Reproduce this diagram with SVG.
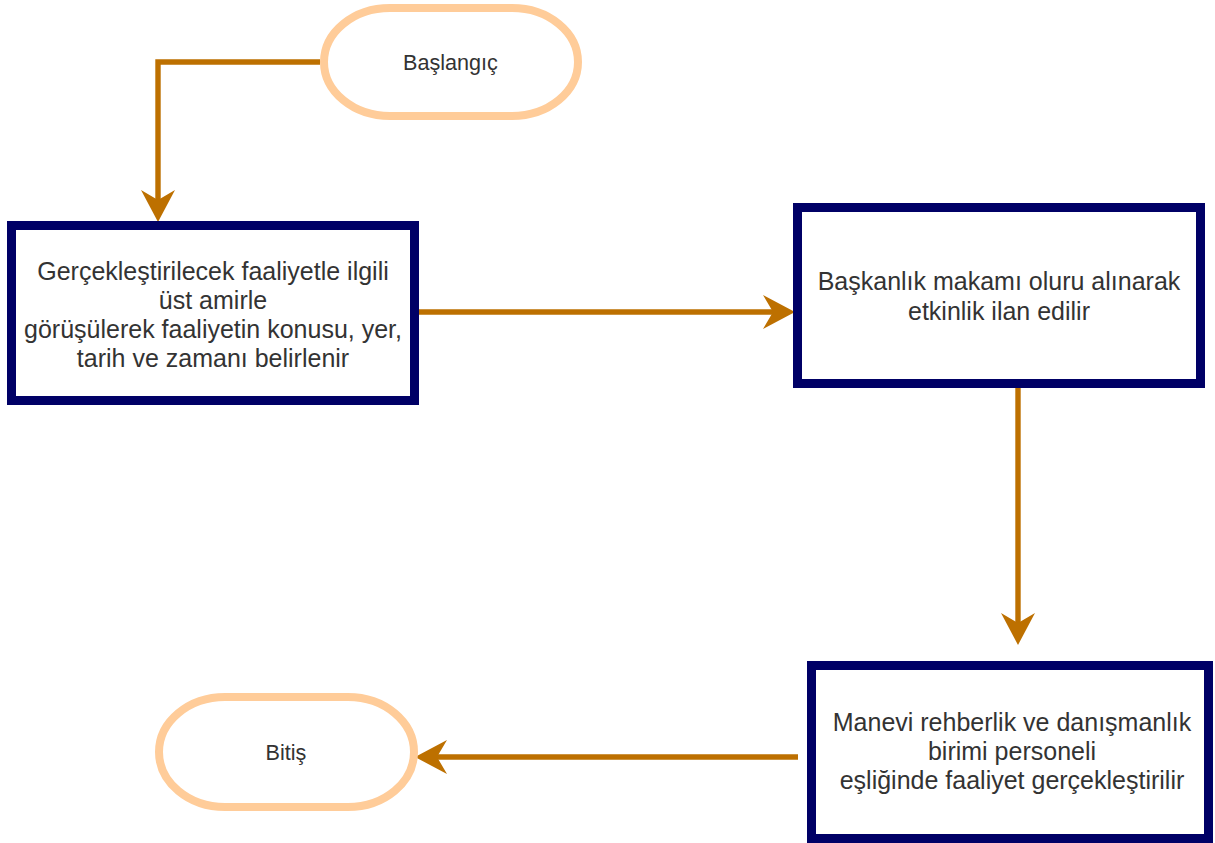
<svg xmlns="http://www.w3.org/2000/svg" width="1215" height="843" viewBox="0 0 1215 843">
<style>
.pill{fill:#ffffff;stroke:#FFCC99;stroke-width:8}
.box{fill:#ffffff;stroke:#000066;stroke-width:9}
.edge{fill:none;stroke:#BD7000;stroke-width:5.4}
.t{font-family:"Liberation Sans",Arial,sans-serif;fill:#333333;text-anchor:middle}
.tb{font-size:25px}
.ts{font-size:21.6px}
</style>
<defs>
<marker id="arr" viewBox="-12 -19 36 38" refX="0" refY="0" markerWidth="36" markerHeight="38" markerUnits="userSpaceOnUse" orient="auto">
<path d="M22,0 L-10,-17 L0,0 L-10,17 Z" fill="#BD7000"/>
</marker>
</defs>
<rect width="1215" height="843" fill="#ffffff"/>
<g id="connectors">
<path class="edge" d="M320,62 H158 V200" marker-end="url(#arr)"/>
<path class="edge" d="M415,312 H773" marker-end="url(#arr)"/>
<path class="edge" d="M1018,388 V623" marker-end="url(#arr)"/>
<path class="edge" d="M798,757 H437" marker-end="url(#arr)"/>
</g>
<g id="start">
<rect class="pill" x="324" y="8" width="254" height="108" rx="66" ry="54"/>
<text class="t ts" x="450.5" y="69.5">Başlangıç</text>
</g>
<g id="step1">
<rect class="box" x="11.5" y="225.5" width="403" height="175"/>
<text class="t tb"><tspan x="213" y="280">Gerçekleştirilecek faaliyetle ilgili</tspan><tspan x="213" y="309">üst amirle</tspan><tspan x="213" y="338">görüşülerek faaliyetin konusu, yer,</tspan><tspan x="213" y="367">tarih ve zamanı belirlenir</tspan></text>
</g>
<g id="step2">
<rect class="box" x="797.5" y="207.5" width="403" height="176"/>
<text class="t tb"><tspan x="999" y="290">Başkanlık makamı oluru alınarak</tspan><tspan x="999" y="320">etkinlik ilan edilir</tspan></text>
</g>
<g id="step3">
<rect class="box" x="811.5" y="665.5" width="397" height="173"/>
<text class="t tb"><tspan x="1012" y="731">Manevi rehberlik ve danışmanlık</tspan><tspan x="1012" y="760">birimi personeli</tspan><tspan x="1012" y="789">eşliğinde faaliyet gerçekleştirilir</tspan></text>
</g>
<g id="end">
<rect class="pill" x="159" y="697" width="255" height="110" rx="66" ry="55"/>
<text class="t ts" x="286" y="760">Bitiş</text>
</g>
</svg>
